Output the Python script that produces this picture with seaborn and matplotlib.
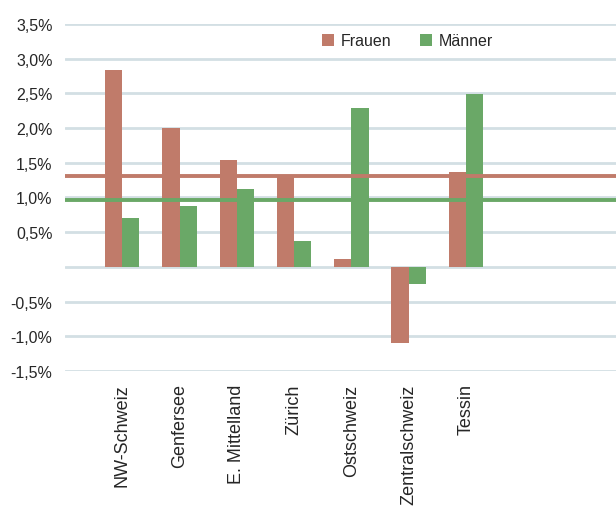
import pandas as pd
import numpy as np
import seaborn as sns
import matplotlib.pyplot as plt

regionen = ['NW-Schweiz', 'Genfersee', 'E. Mittelland', 'Zürich', 'Ostschweiz', 'Zentralschweiz', 'Tessin']
frauen = [2.84, 2.00, 1.54, 1.31, 0.12, -1.10, 1.37]
maenner = [0.71, 0.88, 1.12, 0.37, 2.29, -0.24, 2.49]
schnitt_frauen = 1.31
schnitt_maenner = 0.96

df = pd.DataFrame({
    'Region': regionen * 2,
    'Wert': frauen + maenner,
    'Geschlecht': ['Frauen'] * len(regionen) + ['Männer'] * len(regionen),
})

sns.set_style('white')
plt.rcParams['font.family'] = ['Liberation Sans', 'DejaVu Sans']

rot = '#c07b6a'
gruen = '#6aa867'
grid_col = '#d3dfe4'

fig = plt.figure(figsize=(6.16, 5.10), dpi=100)
ax = fig.add_axes([65 / 616, 1 - 372 / 510, 1 - 65 / 616, (372 - 25) / 510])

yticks = np.arange(-1.5, 3.51, 0.5)
for y in yticks:
    ax.axhline(y, color=grid_col, lw=2, zorder=0)

sns.barplot(data=df, x='Region', y='Wert', hue='Geschlecht',
            palette={'Frauen': rot, 'Männer': gruen},
            width=0.6, gap=0, saturation=1, linewidth=0, ax=ax, zorder=2)

ax.axhline(schnitt_frauen, color=rot, lw=2.8, zorder=3)
ax.axhline(schnitt_maenner, color=gruen, lw=2.8, zorder=3)

ax.set_xlim(-1.0, 8.62)
ax.set_ylim(-1.5, 3.5)
ax.set_yticks(yticks)
ax.set_yticklabels(['' if abs(v) < 1e-9 else f'{v:.1f}%'.replace('.', ',') for v in yticks],
                   fontsize=11.5, color='#262626')
ax.set_xticks(range(len(regionen)))
ax.set_xticklabels(regionen, rotation=90, fontsize=13, color='#262626')
ax.tick_params(axis='both', length=0)
ax.tick_params(axis='x', pad=9)
ax.tick_params(axis='y', pad=9)
ax.set_xlabel('')
ax.set_ylabel('')
for s in ax.spines.values():
    s.set_visible(False)

handles, labels = ax.get_legend_handles_labels()
ax.legend(handles, labels, loc='center left', bbox_to_anchor=(322 / 616, 1 - 42 / 510),
          bbox_transform=fig.transFigure, ncol=2, frameon=False, fontsize=11.5,
          handlelength=0.72, handleheight=0.72, handletextpad=0.45,
          columnspacing=1.8, borderpad=0, borderaxespad=0)

fig.savefig('out.png', dpi=100)
